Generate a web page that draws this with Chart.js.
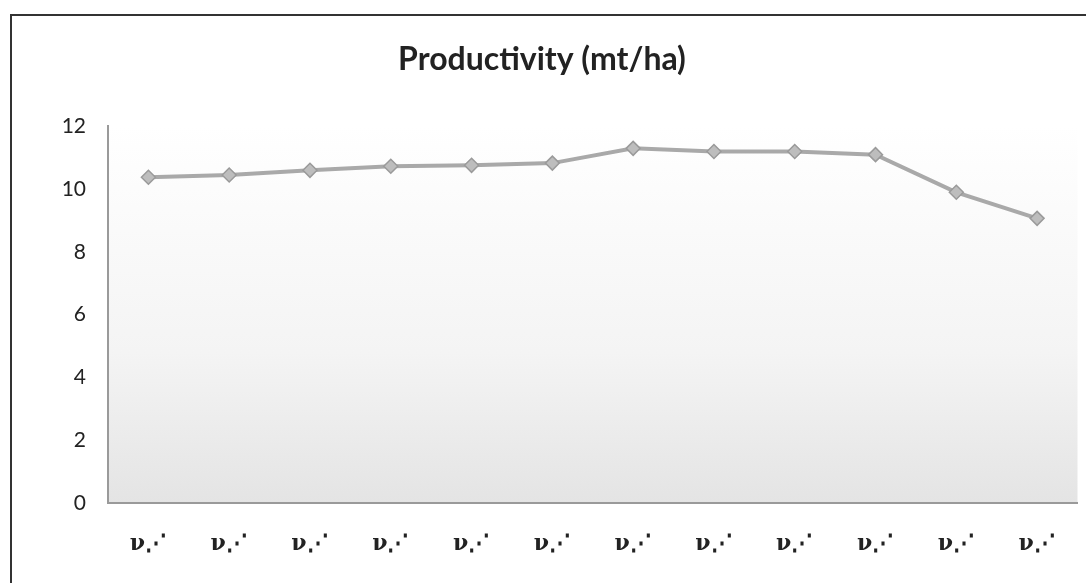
<!DOCTYPE html>
<html>
<head>
<meta charset="utf-8">
<script src="https://cdn.jsdelivr.net/npm/chart.js@4"></script>
<style>
  html, body { margin: 0; padding: 0; background: #fff; overflow: hidden; }
  #wrap { width: 1086px; height: 583px; position: relative; }
</style>
</head>
<body>
<div id="wrap"><canvas id="myChart"></canvas></div>
<script>
// x labels are unreadable squiggles in the source, kept as they appear
const labels = ['ν⋰', 'ν⋰', 'ν⋰', 'ν⋰', 'ν⋰', 'ν⋰', 'ν⋰', 'ν⋰', 'ν⋰', 'ν⋰', 'ν⋰', 'ν⋰'];
const productivity = [10.38, 10.45, 10.6, 10.73, 10.76, 10.83, 11.3, 11.2, 11.2, 11.1, 9.9, 9.07];
const yTicks = [0, 2, 4, 6, 8, 10, 12];

// plot area shading + outer frame
const backdrop = {
  id: 'backdrop',
  beforeDraw(chart) {
    const { ctx, chartArea: a } = chart;
    ctx.save();
    ctx.fillStyle = '#fff';
    ctx.fillRect(0, 0, chart.width, chart.height);
    let g = ctx.createLinearGradient(0, a.top, 0, a.bottom);
    g.addColorStop(0, '#ffffff');
    g.addColorStop(0.6, '#f4f4f4');
    g.addColorStop(1, '#e4e4e4');
    ctx.fillStyle = g;
    ctx.fillRect(a.left, a.top, a.right - a.left, a.bottom - a.top);
    ctx.strokeStyle = '#333';
    ctx.lineWidth = 2;
    ctx.strokeRect(11, 15, 1200, 700);
    ctx.restore();
  }
};

const ctx = document.getElementById('myChart').getContext('2d');
const myChart = new Chart(ctx, {
  type: 'line',
  data: {
    labels,
    datasets: [{
      label: 'Productivity (mt/ha)',
      data: productivity,
      borderColor: '#a9a9a9',
      borderWidth: 4,
      pointStyle: 'rectRot',
      pointRadius: 7,
      pointBackgroundColor: '#bdbdbd',
      pointBorderColor: '#9a9a9a',
      pointBorderWidth: 1.5,
      tension: 0,
    }],
  },
  options: {
    responsive: true,
    maintainAspectRatio: false,
    animation: false,
    layout: { padding: { left: 0, right: 2, top: 0, bottom: 0 } },
    plugins: {
      legend: { display: false },
      tooltip: { enabled: false },
      title: {
        display: true,
        text: 'Productivity (mt/ha)',
        color: '#222',
        font: { family: 'Lato', size: 32, weight: 'bold' },
        padding: { top: 40, bottom: 48 },
      },
    },
    scales: {
      x: {
        offset: true,
        grid: { display: false, drawTicks: false },
        border: { display: true, color: '#9a9a9a', width: 2 },
        ticks: {
          color: '#222',
          padding: 28,
          maxRotation: 0,
          font: { family: 'DejaVu Serif', size: 22, weight: 'bold' },
        },
        afterFit: (scale) => { scale.height = 80; },
      },
      y: {
        min: 0,
        max: 12,
        afterBuildTicks: (scale) => { scale.ticks = yTicks.map(v => ({ value: v })); },
        grid: { display: false, drawTicks: false },
        border: { display: true, color: '#9a9a9a', width: 2 },
        ticks: {
          color: '#222',
          padding: 22,
          font: { family: 'Lato', size: 21 },
        },
        afterFit: (scale) => { scale.width = 108; },
      },
    },
  },
  plugins: [backdrop],
});
</script>
</body>
</html>
